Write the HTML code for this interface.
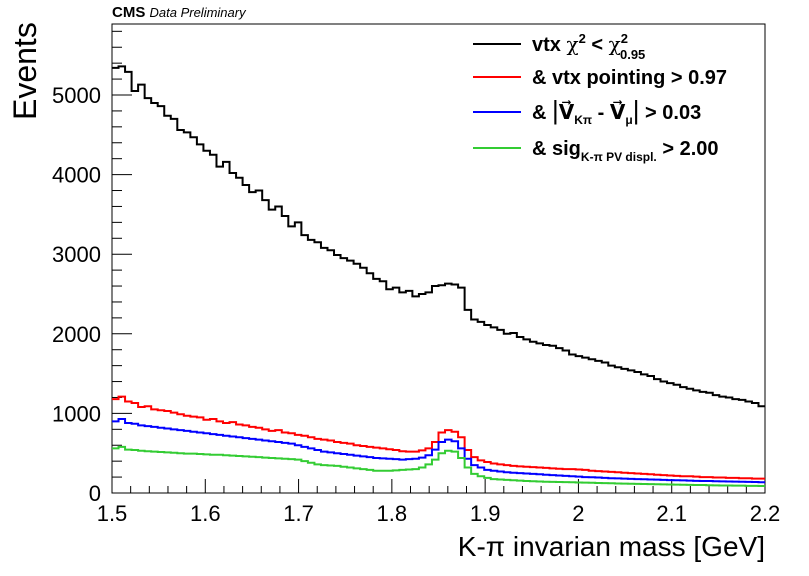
<!DOCTYPE html>
<html><head><meta charset="utf-8"><style>
html,body{margin:0;padding:0;background:#fff;}
svg{display:block;font-family:"Liberation Sans",Arial,sans-serif;}
</style></head><body>
<svg id="c" width="809" height="576" viewBox="0 0 809 576">
<text x="112" y="17" font-size="15" font-weight="bold">CMS <tspan font-weight="normal" font-style="italic" font-size="13">Data Preliminary</tspan></text>
<rect x="112" y="24" width="653" height="469" fill="none" stroke="#000" stroke-width="1"/>
<g id="axes"></g>
<g id="series"></g>
<text transform="translate(36,120) rotate(-90)" font-size="32">Events</text>
<text x="765" y="556" text-anchor="end" font-size="28">K-π invarian mass [GeV]</text>
<g font-weight="bold" font-size="20">
<g><line x1="473" y1="44" x2="521" y2="44" stroke="#000" stroke-width="2"/><text x="532" y="51">vtx  <tspan font-weight="normal" font-family="DejaVu Serif,serif">χ</tspan><tspan font-size="13" dy="-8">2</tspan><tspan dy="8"> &lt; </tspan><tspan font-weight="normal" font-family="DejaVu Serif,serif">χ</tspan><tspan font-size="13" dy="-8">2</tspan><tspan font-size="13" dx="-8" dy="16">0.95</tspan></text></g>
<g><line x1="473" y1="77" x2="521" y2="77" stroke="#f00" stroke-width="2"/><text x="532" y="84">&amp; vtx pointing &gt; 0.97</text></g>
<g><line x1="473" y1="112" x2="521" y2="112" stroke="#00f" stroke-width="2"/><text x="532" y="119">&amp; <tspan font-weight="normal" font-size="26">|</tspan>V⃗<tspan font-size="12" dy="5">Kπ</tspan><tspan dy="-5"> - V⃗</tspan><tspan font-size="12" dy="5">μ</tspan><tspan dy="-5" font-weight="normal" font-size="26">|</tspan> &gt; 0.03</text></g>
<g><line x1="473" y1="148" x2="521" y2="148" stroke="#3c3" stroke-width="2"/><text x="532" y="155">&amp; sig<tspan font-size="12" dy="6">K-π PV displ.</tspan><tspan dy="-6"> &gt; 2.00</tspan></text></g>
</g>
</svg>
<script>
const xMin = 1.5, xMax = 2.2, nBins = 100;
const yTicks = [0, 1000, 2000, 3000, 4000, 5000];
const xTicks = [1.5, 1.6, 1.7, 1.8, 1.9, 2.0, 2.1, 2.2];
const xTickLabels = ["1.5","1.6","1.7","1.8","1.9","2","2.1","2.2"];
const blackVals = [5340,5360,5290,5050,5130,4960,4900,4860,4740,4700,
4560,4530,4470,4380,4300,4250,4100,4160,4020,3960,
3870,3780,3800,3680,3560,3600,3480,3350,3400,3240,
3180,3150,3080,3050,2990,2950,2920,2880,2830,2760,
2690,2660,2560,2580,2520,2540,2470,2500,2520,2600,
2610,2630,2620,2580,2300,2180,2150,2110,2080,2050,
2000,2010,1960,1930,1900,1880,1860,1850,1820,1790,
1740,1720,1700,1680,1660,1640,1600,1580,1560,1540,
1520,1490,1470,1430,1400,1380,1360,1330,1310,1290,
1270,1260,1230,1210,1200,1180,1170,1150,1130,1090];
const redVals = [1180,1210,1150,1130,1080,1090,1050,1040,1030,1010,
990,970,960,950,920,930,900,880,890,860,
850,830,820,800,780,790,760,750,730,720,
700,680,670,660,640,630,620,600,590,580,
570,560,550,540,525,520,520,535,560,640,
760,790,770,700,540,450,410,390,370,360,
350,340,335,330,325,320,315,310,305,300,
300,295,290,280,275,270,265,260,255,250,
245,240,235,230,225,220,215,210,210,205,
200,200,195,195,190,190,185,185,180,180];
const blueVals = [900,930,880,870,850,840,830,820,810,800,
790,780,770,760,750,740,730,720,710,700,
690,680,670,660,650,640,630,620,600,580,
560,540,520,510,500,490,480,470,460,450,
440,435,430,425,420,425,430,445,475,545,
640,670,650,560,430,350,320,290,280,270,
260,255,250,245,240,235,230,225,220,215,
210,205,200,198,195,190,185,183,180,178,
175,172,170,168,165,162,160,158,155,152,
150,150,148,146,145,143,142,140,138,135];
const greenVals = [560,580,545,540,530,525,520,515,510,505,
500,495,495,490,485,480,480,475,470,465,
460,455,450,445,440,435,430,425,420,400,
380,360,350,345,340,330,320,310,300,290,
280,280,280,285,290,295,300,320,360,420,
500,530,520,440,320,240,210,190,175,170,
165,160,155,150,148,145,142,140,138,136,
135,132,130,128,126,124,122,120,118,116,
115,113,112,110,108,106,105,104,102,100,
100,98,96,95,94,92,92,90,90,88];

const X0 = 112, X1 = 765, Y0 = 493, PXPER = 0.0796;
function xs(v){ return X0 + (v - xMin) / (xMax - xMin) * (X1 - X0); }
function ys(v){ return Y0 - v * PXPER; }
const NS = "http://www.w3.org/2000/svg";
const axes = document.getElementById('axes');
function mk(tag, attrs, parent){ const e = document.createElementNS(NS, tag); for (const k in attrs) e.setAttribute(k, attrs[k]); parent.appendChild(e); return e; }

for (let v = 0; v <= 5800; v += 200) {
  const major = v % 1000 === 0;
  const t = mk('line', {x1: X0, x2: X0 + (major ? 20 : 10), y1: ys(v), y2: ys(v), stroke: '#000'}, axes);
  
  
}
yTicks.forEach(v => {
  const t = mk('text', {x: 101, y: ys(v) + 8, 'text-anchor': 'end', 'font-size': 22}, axes);
  t.textContent = String(v);
  
  
});
for (let i = 0; i <= 35; i++) {
  const v = xMin + i * 0.02;
  const major = i % 5 === 0;
  const t = mk('line', {x1: xs(v), x2: xs(v), y1: Y0, y2: Y0 - (major ? 14 : 7), stroke: '#000'}, axes);
  
  
}
xTicks.forEach((v, i) => {
  const t = mk('text', {x: xs(v), y: 521, 'text-anchor': 'middle', 'font-size': 22}, axes);
  t.textContent = xTickLabels[i];
  
  
});

const g = document.getElementById('series');
function hist(vals, color, name){
  const w = (xMax - xMin) / vals.length;
  let d = '';
  vals.forEach((v, i) => {
    const xa = xs(xMin + i * w), xb = xs(xMin + (i + 1) * w), y = ys(v);
    d += (i === 0 ? 'M' + xa + ',' + y : 'L' + xa + ',' + y) + 'L' + xb + ',' + y;
  });
  const p = mk('path', {d: d, fill: 'none', stroke: color, 'stroke-width': 2}, g);
  
  
}
hist(blackVals, '#000', 'series-vtx-chi2');
hist(redVals, '#f00', 'series-pointing');
hist(blueVals, '#00f', 'series-displacement');
hist(greenVals, '#3c3', 'series-significance');
</script>
</body></html>
